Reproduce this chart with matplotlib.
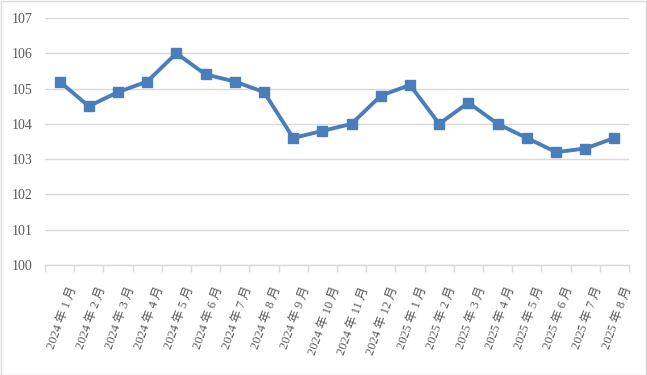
import matplotlib
matplotlib.use("Agg")
import matplotlib.pyplot as plt
from matplotlib.patches import Rectangle
import numpy as np

categories = ["2024 年 1 月", "2024 年 2 月", "2024 年 3 月", "2024 年 4 月", "2024 年 5 月", "2024 年 6 月",
              "2024 年 7 月", "2024 年 8 月", "2024 年 9 月", "2024 年 10 月", "2024 年 11 月", "2024 年 12 月",
              "2025 年 1 月", "2025 年 2 月", "2025 年 3 月", "2025 年 4 月", "2025 年 5 月", "2025 年 6 月",
              "2025 年 7 月", "2025 年 8 月"]
values = [105.2, 104.5, 104.9, 105.2, 106.0, 105.4, 105.2, 104.9, 103.6, 103.8,
          104.0, 104.8, 105.1, 104.0, 104.6, 104.0, 103.6, 103.2, 103.3, 103.6]
yticks = [100, 101, 102, 103, 104, 105, 106, 107]

fam = ["Liberation Serif", "Noto Sans CJK SC", "DejaVu Sans"]
plt.rcParams["font.family"] = fam

W, H = 647, 375
fig = plt.figure(figsize=(W / 100, H / 100), dpi=100)
ax = fig.add_axes([45 / W, 1 - 265 / H, (629 - 45) / W, (265 - 18) / H])

n = len(values)
x = list(range(n))
ax.plot(x, values, color="#4a7ebb", lw=2.8, marker="s", markersize=6.5,
        markerfacecolor="#4a7ebb", markeredgecolor="#4a7ebb", zorder=3, clip_on=False)

ax.set_xlim(-0.5, n - 0.5)
ax.set_ylim(100, 107)
ax.set_yticks(yticks)
ax.set_yticklabels([str(v) for v in yticks], fontsize=10, color="#595959")
ax.grid(axis="y", color="#d9d9d9", lw=1)
ax.set_axisbelow(True)
ax.tick_params(axis="y", length=0, pad=9)

ax.set_xticks(np.arange(-0.5, n, 1.0))
ax.set_xticklabels([])
ax.tick_params(axis="x", length=5, color="#d9d9d9", width=1, direction="out")

for i, lab in enumerate(categories):
    ax.annotate(lab, xy=(i, 0), xycoords=ax.get_xaxis_transform(),
                xytext=(10, -16), textcoords="offset points",
                rotation=70, ha="right", va="center", rotation_mode="anchor",
                fontsize=9, color="#595959", annotation_clip=False)

for s in ["top", "right", "left"]:
    ax.spines[s].set_visible(False)
ax.spines["bottom"].set_color("#d9d9d9")
ax.spines["bottom"].set_linewidth(1)

fig.patches.append(Rectangle((0.5 / W, 0.5 / H), 1 - 1.5 / W, 1 - 1.5 / H, transform=fig.transFigure,
                             fill=False, edgecolor="#d9d9d9", lw=1))
fig.savefig("out.png", dpi=100)
